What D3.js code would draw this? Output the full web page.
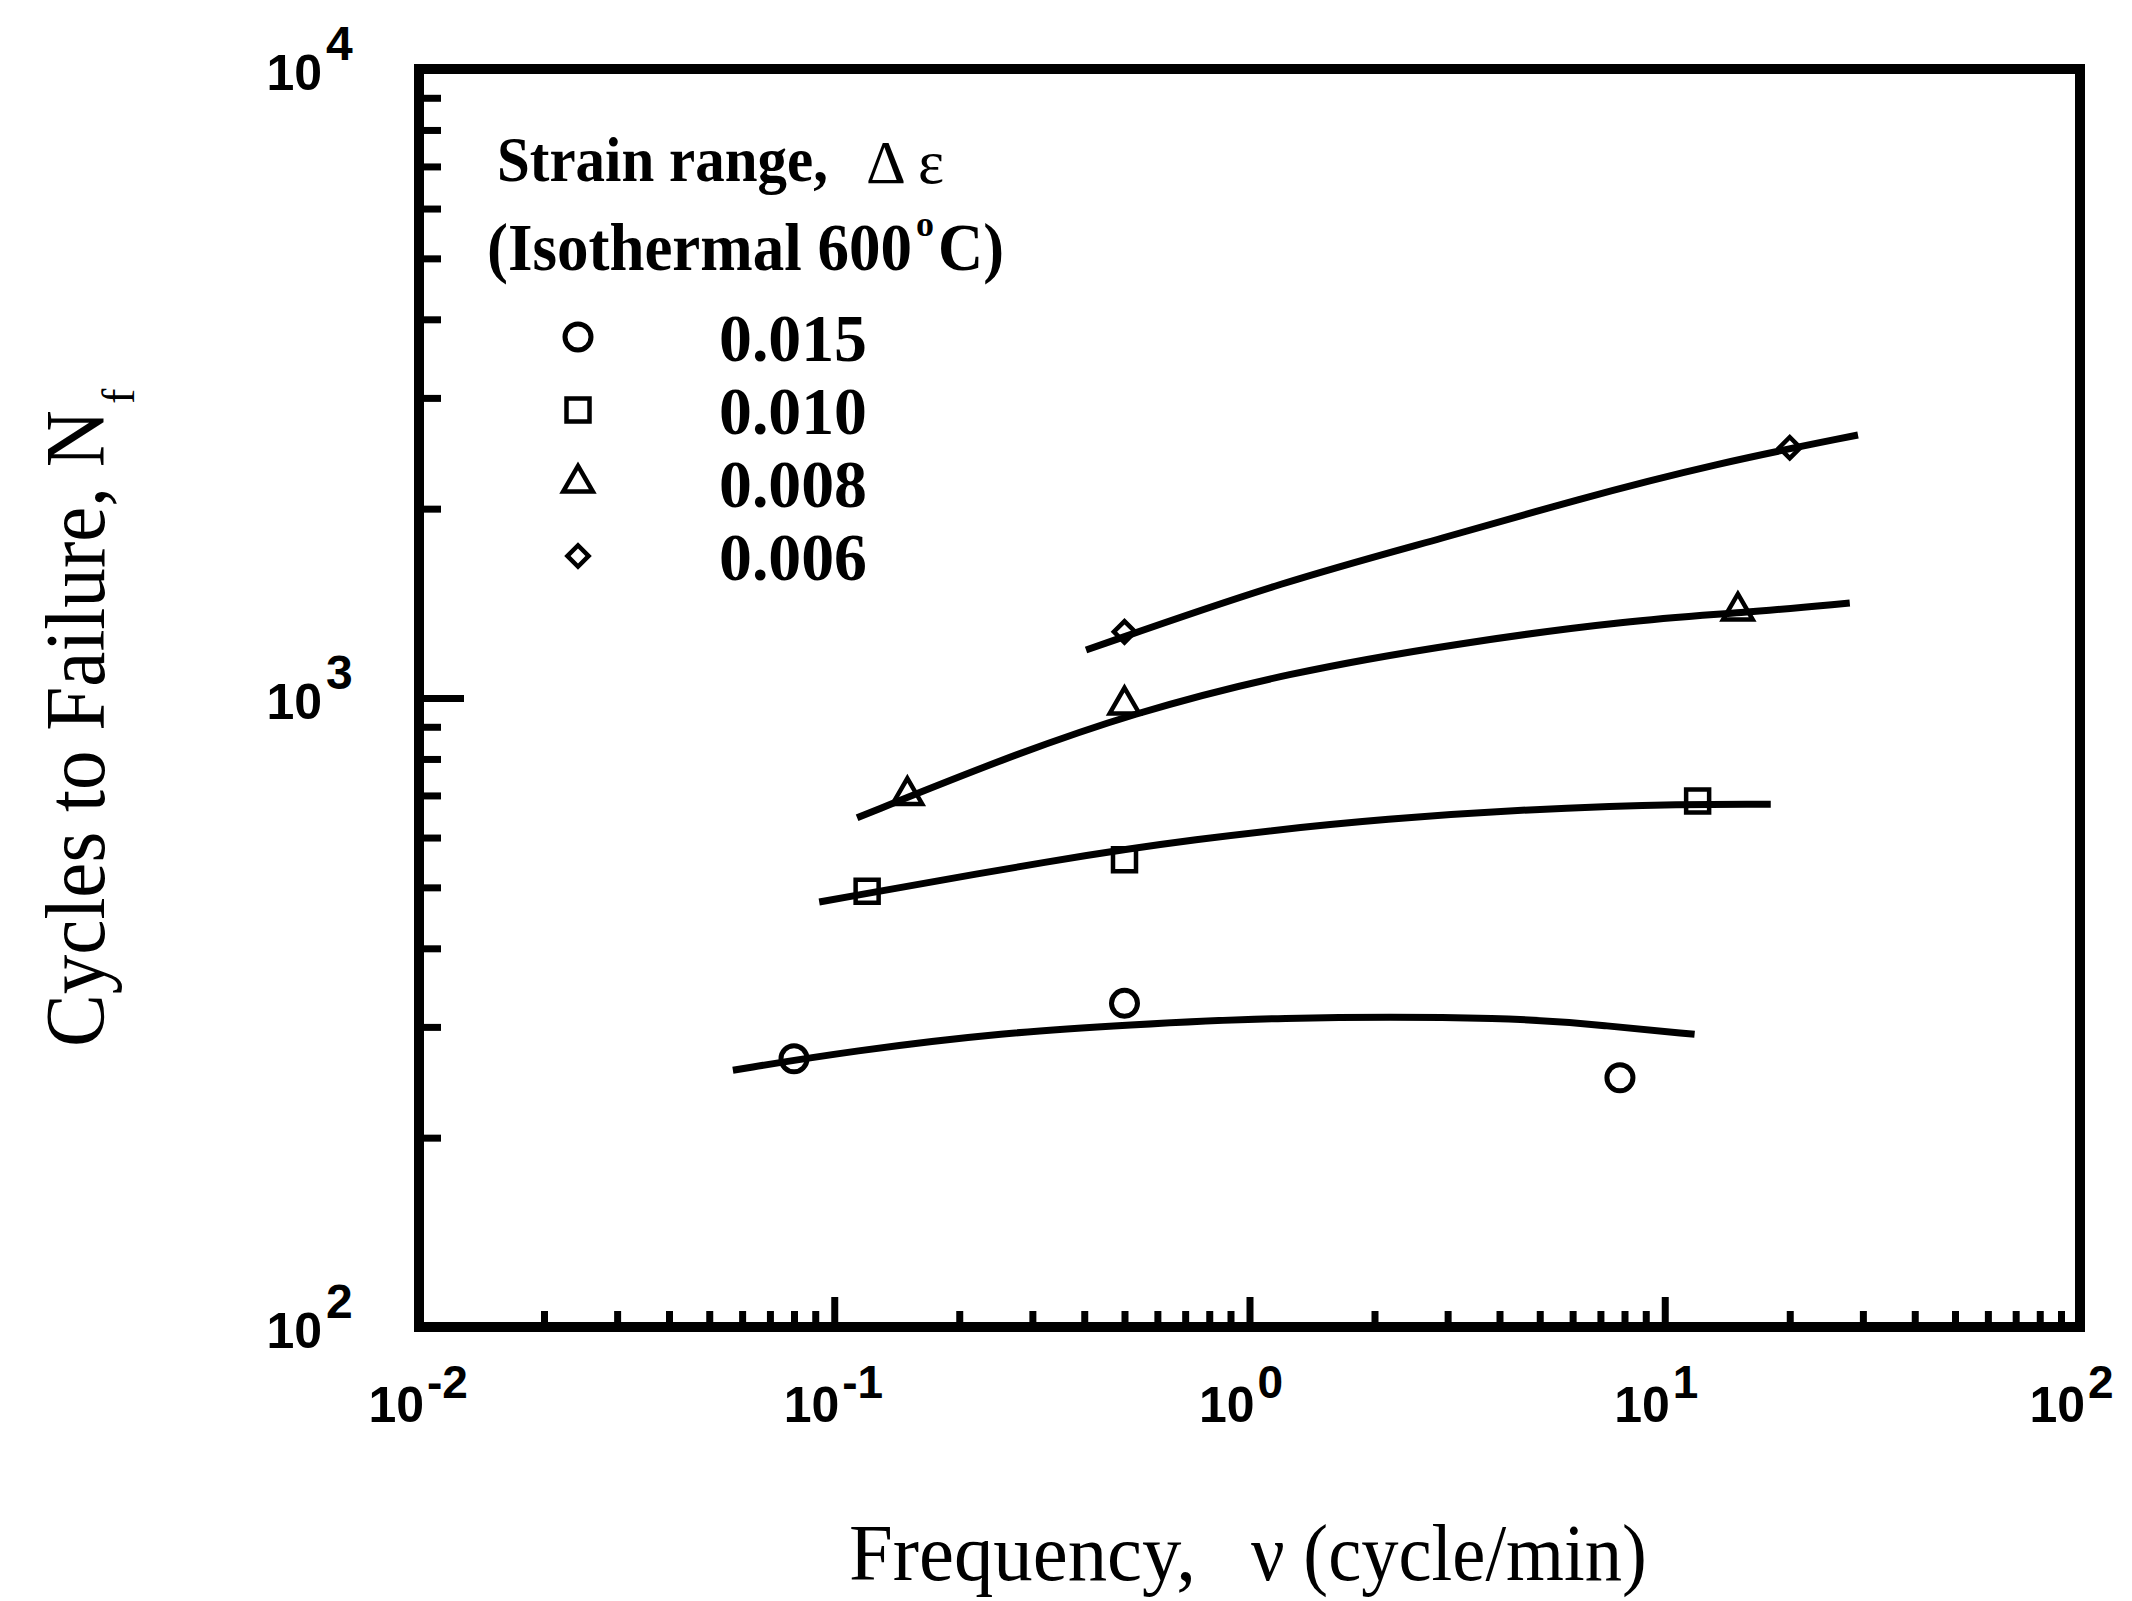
<!DOCTYPE html>
<html>
<head>
<meta charset="utf-8">
<script src="https://cdn.jsdelivr.net/npm/d3@7"></script>
<style>
  html, body { margin: 0; padding: 0; background: #fff; }
  svg { display: block; }
</style>
</head>
<body>
<script>
// ---------------- DATA ----------------
const strainRanges = ["0.015", "0.010", "0.008", "0.006"];

// measured points (frequency in cycle/min, cycles to failure)
const freq015 = [0.08, 0.5, 7.8];
const cycles015 = [267, 327, 249];
const freq010 = [0.12, 0.5, 12];
const cycles010 = [493, 553, 686];
const freq008 = [0.15, 0.5, 15];
const cycles008 = [700, 975, 1375];
const freq006 = [0.5, 20];
const cycles006 = [1274, 2500];

// hand-drawn fit curves
const fitFreq015 = [0.057, 0.111, 0.259, 0.51, 1.1, 4.46, 7.26, 11.8];
const fitCycles015 = [256, 275, 294, 302, 311, 311, 301, 292];
const fitFreq010 = [0.092, 0.363, 0.688, 2.07, 8.07, 18.0];
const fitCycles010 = [474, 557, 593, 645, 678, 678];
const fitFreq008 = [0.1135, 0.2506, 0.521, 1.23, 3.19, 8.29, 15.3, 27.9];
const fitCycles008 = [645, 797, 946, 1096, 1223, 1330, 1365, 1416];
const fitFreq006 = [0.404, 1.23, 3.01, 6.05, 13.4, 29.2];
const fitCycles006 = [1192, 1540, 1803, 2064, 2363, 2619];

// axis tick exponents
const xTickExps = [-2, -1, 0, 1, 2];
const yTickExps = [2, 3, 4];

// labels
const xTitleA = "Frequency,";
const xTitleB = "\u03bd (cycle/min)";
const yTitle = "Cycles to Failure, N";
const yTitleSub = "f";
const legendTitle1 = "Strain range,";
const legendTitle1b = "\u0394 \u03b5";
const legendTitle2 = ["(Isothermal 600", "o", "C)"];

// ---------------- CHART ----------------
const W = 2132, H = 1601;
const svg = d3.select("body").append("svg").attr("width", W).attr("height", H);
svg.append("rect").attr("width", W).attr("height", H).attr("fill", "#fff");

const x = d3.scaleLog().domain([0.01, 100]).range([419, 2080]);
const y = d3.scaleLog().domain([100, 10000]).range([1327, 69]);

const isMajor = d => Math.abs(Math.log10(d) - Math.round(Math.log10(d))) < 1e-9;

// text helper: place text and squeeze it horizontally to a target width
function fitText(str, x0, y0, width, opts) {
  const t = svg.append("text")
    .attr("font-family", opts.family)
    .attr("font-size", opts.size)
    .attr("font-weight", opts.weight || "normal")
    .text(str);
  const natural = t.node().getComputedTextLength();
  const s = width / natural;
  t.attr("transform", `translate(${x0},${y0})` + (opts.rot ? ` rotate(${opts.rot})` : "") + ` scale(${s},1)`);
  return t;
}

// x ticks
const xTickVals = [];
for (let e = -2; e <= 1; e++) for (let m = 1; m <= 9; m++) xTickVals.push(+(m * Math.pow(10, e)).toPrecision(6));
xTickVals.push(100);
const gx = svg.append("g").attr("transform", `translate(0,${y(100)})`)
  .call(d3.axisBottom(x).tickValues(xTickVals).tickSize(-16).tickFormat(""));
gx.select(".domain").remove();
gx.selectAll(".tick line").attr("stroke", "#000").attr("stroke-width", 7)
  .attr("y2", d => isMajor(d) ? -30 : -16);

// y ticks
const yTickVals = [];
for (let e = 2; e <= 3; e++) for (let m = 1; m <= 9; m++) yTickVals.push(+(m * Math.pow(10, e)).toPrecision(6));
yTickVals.push(10000);
const gy = svg.append("g").attr("transform", `translate(${x(0.01)},0)`)
  .call(d3.axisLeft(y).tickValues(yTickVals).tickSize(-22).tickFormat(""));
gy.select(".domain").remove();
gy.selectAll(".tick line").attr("stroke", "#000").attr("stroke-width", 7)
  .attr("x2", d => isMajor(d) ? 45 : 22);

// frame
svg.append("rect")
  .attr("x", x(0.01)).attr("y", y(10000))
  .attr("width", x(100) - x(0.01)).attr("height", y(100) - y(10000))
  .attr("fill", "none").attr("stroke", "#000").attr("stroke-width", 10);

// tick labels
const tickFont = "'Liberation Sans', Arial, sans-serif";
xTickExps.forEach(e => {
  const px = x(Math.pow(10, e));
  svg.append("text").attr("x", px + 5).attr("y", 1422)
    .attr("text-anchor", "end").attr("font-family", tickFont).attr("font-weight", "bold")
    .attr("font-size", 50).text("10");
  svg.append("text").attr("x", px + 8).attr("y", 1398)
    .attr("text-anchor", "start").attr("font-family", tickFont).attr("font-weight", "bold")
    .attr("font-size", 46).text(String(e));
});
yTickExps.forEach(e => {
  const py = y(Math.pow(10, e));
  svg.append("text").attr("x", 322).attr("y", py + 21)
    .attr("text-anchor", "end").attr("font-family", tickFont).attr("font-weight", "bold")
    .attr("font-size", 50).text("10");
  svg.append("text").attr("x", 326).attr("y", py - 9)
    .attr("text-anchor", "start").attr("font-family", tickFont).attr("font-weight", "bold")
    .attr("font-size", 48).text(String(e));
});

// axis titles
const serif = "'Liberation Serif', 'Times New Roman', serif";
fitText(xTitleA, 849, 1580, 347, { family: serif, size: 80 });
fitText(xTitleB, 1251, 1580, 396, { family: serif, size: 80 });
fitText(yTitle, 104, 1047, 637, { family: serif, size: 84, rot: -90 });
svg.append("text").attr("transform", "translate(134,404) rotate(-90)")
  .attr("font-family", serif).attr("font-size", 46).text(yTitleSub);

// series
const series = [
  { name: strainRanges[0], fx: freq015, fy: cycles015, lx: fitFreq015, ly: fitCycles015, shape: "circle" },
  { name: strainRanges[1], fx: freq010, fy: cycles010, lx: fitFreq010, ly: fitCycles010, shape: "square" },
  { name: strainRanges[2], fx: freq008, fy: cycles008, lx: fitFreq008, ly: fitCycles008, shape: "triangle" },
  { name: strainRanges[3], fx: freq006, fy: cycles006, lx: fitFreq006, ly: fitCycles006, shape: "diamond" }
];

const line = d3.line().x(d => x(d[0])).y(d => y(d[1])).curve(d3.curveBasis);
series.forEach(s => {
  svg.append("path").datum(d3.zip(s.lx, s.ly))
    .attr("d", line).attr("fill", "none").attr("stroke", "#000").attr("stroke-width", 7);
});

function symbolPath(shape) {
  if (shape === "circle") return d3.symbol().type(d3.symbolCircle).size(Math.PI * 13 * 13)();
  if (shape === "square") return d3.symbol().type(d3.symbolSquare).size(23 * 23)();
  if (shape === "triangle") return d3.symbol().type(d3.symbolTriangle).size(380)();
  return d3.symbol().type(d3.symbolSquare).size(15 * 15)();
}
function drawMarker(g, shape, cx, cy) {
  g.append("path").attr("d", symbolPath(shape))
    .attr("transform", `translate(${cx},${cy})` + (shape === "diamond" ? " rotate(45)" : ""))
    .attr("fill", "none").attr("stroke", "#000")
    .attr("stroke-width", shape === "circle" ? 5 : 4.5);
}
const gm = svg.append("g");
series.forEach(s => {
  d3.zip(s.fx, s.fy).forEach(p => drawMarker(gm, s.shape, x(p[0]), y(p[1])));
});

// legend
fitText(legendTitle1, 497, 181, 331, { family: serif, size: 64, weight: "bold" });
fitText(legendTitle1b, 866, 183, 78, { family: serif, size: 62 });
fitText(legendTitle2[0], 487, 270, 425, { family: serif, size: 68, weight: "bold" });
svg.append("text").attr("x", 916).attr("y", 236)
  .attr("font-family", serif).attr("font-weight", "bold").attr("font-size", 36).text(legendTitle2[1]);
fitText(legendTitle2[2], 938, 270, 66, { family: serif, size: 68, weight: "bold" });

series.forEach((s, i) => {
  const by = 361 + i * 73;
  drawMarker(svg, s.shape, 578, by - 24);
  fitText(s.name, 719, by, 148, { family: serif, size: 68, weight: "bold" });
});
</script>
</body>
</html>
